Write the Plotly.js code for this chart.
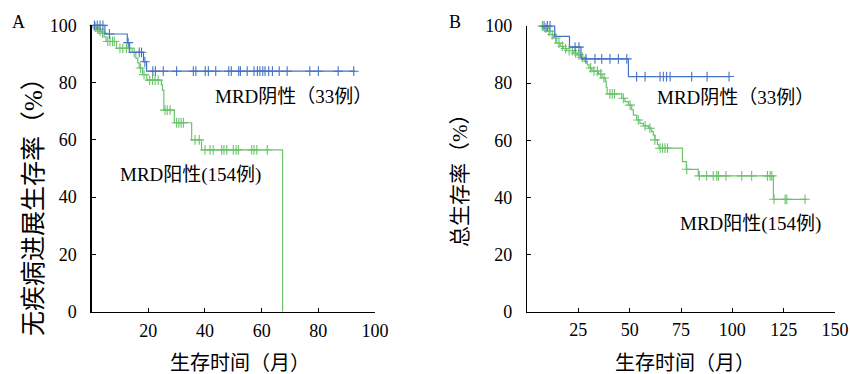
<!DOCTYPE html>
<html>
<head>
<meta charset="utf-8">
<script src="https://cdn.plot.ly/plotly-3.0.1.min.js"></script>
<style>html,body{margin:0;padding:0;background:#fff;}#chart{width:850px;height:374px;}</style>
</head>
<body>
<div id="chart"></div>
<script>
// ---- Panel A: progression-free survival ----
const aNegTimes = [0, 4.7, 12.6, 13.3, 18.3, 19.4, 93];
const aNegSurv  = [100, 97, 94, 90.6, 87.3, 84, 84];
const aNegCens  = [1.0, 2.0, 3.0, 4.0, 6.3, 12.9, 16.8, 17.6, 18.8, 21.6, 22.5, 25.3, 30.0, 35.9, 36.8, 40.1, 41.2, 43.8, 48.4, 49.3, 51.9, 52.5, 54.9, 57.3, 58.5, 59.4, 60.4, 61.2, 62.5, 63.8, 66.2, 69, 77, 80, 87, 92.5];

const aPosTimes = [0, 1.0, 1.8, 2.7, 3.6, 4.4, 5.1, 8.8, 14.3, 15.6, 16.3, 16.8, 18.0, 19.5, 24.6, 25.0, 25.5, 29.2, 35.3, 38.8, 67.4];
const aPosSurv  = [100, 99.4, 98.7, 98.0, 97.3, 96.0, 94.4, 92.0, 90.6, 88.6, 86.9, 85.1, 82.8, 80.9, 79.3, 77.4, 70.4, 66.0, 60.0, 56.5, 0];
const aPosCens  = [1.3, 2.2, 3.0, 3.9, 5.7, 6.5, 7.4, 8.0, 10.0, 11.0, 12.3, 13.5, 15.0, 17.3, 18.5, 20.5, 21.5, 22.4, 23.5, 25.9, 26.7, 27.7, 30.0, 30.8, 31.6, 32.4, 36.5, 38.0, 40.0, 41.8, 42.9, 45.9, 46.7, 47.7, 50.0, 51.0, 51.8, 56.5, 57.3, 58.3, 62.0];

// ---- Panel B: overall survival ----
const bNegTimes = [6.7, 13.5, 20.7, 26.3, 49.4, 98.5];
const bNegSurv  = [100, 96.4, 92.6, 88.5, 82.3, 82.3];
const bNegCens  = [8.3, 9.9, 11.2, 23.4, 25.3, 28.7, 33.1, 36.4, 40.4, 44.5, 48.6, 53.4, 57.5, 64.8, 66.4, 68.0, 69.7, 80.2, 87.7, 98.4];

const bPosTimes = [5.8, 8.0, 9.6, 11.2, 12.8, 14.5, 16.1, 17.8, 19.4, 22.5, 24.5, 26.1, 27.8, 29.4, 30.2, 31.6, 34.8, 36.5, 38.2, 38.6, 39.0, 46.1, 47.7, 49.4, 51.0, 51.8, 53.4, 55.0, 56.7, 59.1, 60.7, 61.5, 62.3, 63.5, 64.3, 75.7, 77.6, 83.4, 120.0, 136.2];
const bPosSurv  = [100, 99.3, 98.1, 97.0, 95.8, 94.0, 92.9, 92.1, 91.4, 90.5, 89.9, 89.0, 87.6, 86.4, 85.3, 84.2, 83.2, 81.8, 80.6, 78.5, 76.2, 74.7, 73.5, 72.3, 70.6, 68.8, 67.1, 65.9, 65.0, 64.2, 63.0, 61.8, 60.1, 58.5, 57.2, 52.5, 49.8, 47.5, 39.3, 39.3];
const bPosCens  = [7.5, 9.1, 10.7, 12.3, 14.0, 15.6, 17.2, 18.8, 20.5, 22.1, 23.7, 25.3, 26.9, 31.0, 32.6, 34.3, 35.9, 37.5, 40.4, 41.5, 42.6, 46.9, 50.2, 54.2, 57.5, 59.9, 62.3, 64.8, 66.0, 67.2, 68.4, 77.8, 83.9, 87.5, 90.7, 92.4, 93.2, 96.9, 104.6, 109.4, 117.1, 118.4, 119.2, 120.3, 125.7, 126.5, 135.4];

const xTicksA = [20, 40, 60, 80, 100];
const xTicksB = [25, 50, 75, 100, 125, 150];
const yTicks  = [0, 20, 40, 60, 80, 100];

const labelNeg = 'MRD阴性（33例）';
const labelPos = 'MRD阳性(154例)';
const xTitle = '生存时间（月）';
const yTitleA = '无疾病进展生存率（%）';
const yTitleB = '总生存率（%）';

const BLUE = '#4472C4';
const GREEN = '#6CC36C';
const FONT = 'Liberation Serif, "Noto Sans CJK SC", serif';

function stepAt(times, surv, t) {
  let v = surv[0];
  for (let i = 0; i < times.length; i++) { if (times[i] <= t) v = surv[i]; }
  return v;
}
function curve(times, surv, color, xa, ya) {
  return {x: times, y: surv, xaxis: xa, yaxis: ya, mode: 'lines', type: 'scatter',
          line: {shape: 'hv', color: color, width: 1.2}, cliponaxis: false, hoverinfo: 'skip'};
}
function cens(c, times, surv, color, xa, ya) {
  return {x: c, y: c.map(t => stepAt(times, surv, t)), xaxis: xa, yaxis: ya, mode: 'markers', type: 'scatter',
          marker: {symbol: 'cross-thin', size: 7, line: {width: 1.1, color: color}, color: color},
          cliponaxis: false, hoverinfo: 'skip'};
}

const data = [
  curve(aPosTimes, aPosSurv, GREEN, 'x', 'y'),
  cens(aPosCens, aPosTimes, aPosSurv, GREEN, 'x', 'y'),
  curve(aNegTimes, aNegSurv, BLUE, 'x', 'y'),
  cens(aNegCens, aNegTimes, aNegSurv, BLUE, 'x', 'y'),
  curve(bPosTimes, bPosSurv, GREEN, 'x2', 'y2'),
  cens(bPosCens, bPosTimes, bPosSurv, GREEN, 'x2', 'y2'),
  curve(bNegTimes, bNegSurv, BLUE, 'x2', 'y2'),
  cens(bNegCens, bNegTimes, bNegSurv, BLUE, 'x2', 'y2')
];

const W = 850, H = 374;
function px(x) { return x / W; }
function py(y) { return 1 - y / H; }

const axBase = {showline: true, linecolor: '#000', linewidth: 1.2, showgrid: false, zeroline: false,
  ticks: 'inside', ticklen: 4, tickwidth: 1, tickcolor: '#000', mirror: false,
  tickfont: {family: FONT, size: 18, color: '#000'}, fixedrange: true};

function ann(text, x, y, size, extra) {
  return Object.assign({text: text, x: px(x), y: py(y), xref: 'paper', yref: 'paper',
    xanchor: 'center', yanchor: 'middle', showarrow: false,
    font: {family: FONT, size: size, color: '#000'}}, extra || {});
}

const layout = {
  width: W, height: H, margin: {l: 0, r: 0, t: 0, b: 0},
  paper_bgcolor: '#fff', plot_bgcolor: '#fff', showlegend: false,
  font: {family: FONT, color: '#000'},
  xaxis: Object.assign({}, axBase, {domain: [px(91.6), px(375)], range: [0, 100], tickvals: xTicksA, anchor: 'y', ticklabelstandoff: 2}),
  yaxis: Object.assign({}, axBase, {domain: [py(311.7), py(25.4)], range: [0, 100], tickvals: yTicks, anchor: 'x', ticklabelstandoff: 10}),
  xaxis2: Object.assign({}, axBase, {domain: [px(527), px(835)], range: [0, 150], tickvals: xTicksB, anchor: 'y2', ticklabelstandoff: 2}),
  yaxis2: Object.assign({}, axBase, {domain: [py(311.5), py(26)], range: [0, 100], tickvals: yTicks, anchor: 'x2', ticklabelstandoff: 10}),
  annotations: [
    ann('A', 18, 22, 18),
    ann('B', 455, 22, 18),
    ann(labelNeg, 213, 97, 19, {xanchor: 'left'}),
    ann(labelPos, 118, 175, 19, {xanchor: 'left'}),
    ann(labelNeg, 655, 98, 19, {xanchor: 'left'}),
    ann(labelPos, 678, 224, 19, {xanchor: 'left'}),
    ann(xTitle, 240, 363, 20),
    ann(xTitle, 685, 363, 20),
    ann(yTitleA, 33, 201, 25, {textangle: -90}),
    ann(yTitleB, 460, 175, 21, {textangle: -90})
  ]
};

Plotly.newPlot('chart', data, layout, {displayModeBar: false, staticPlot: true});
</script>
</body>
</html>
